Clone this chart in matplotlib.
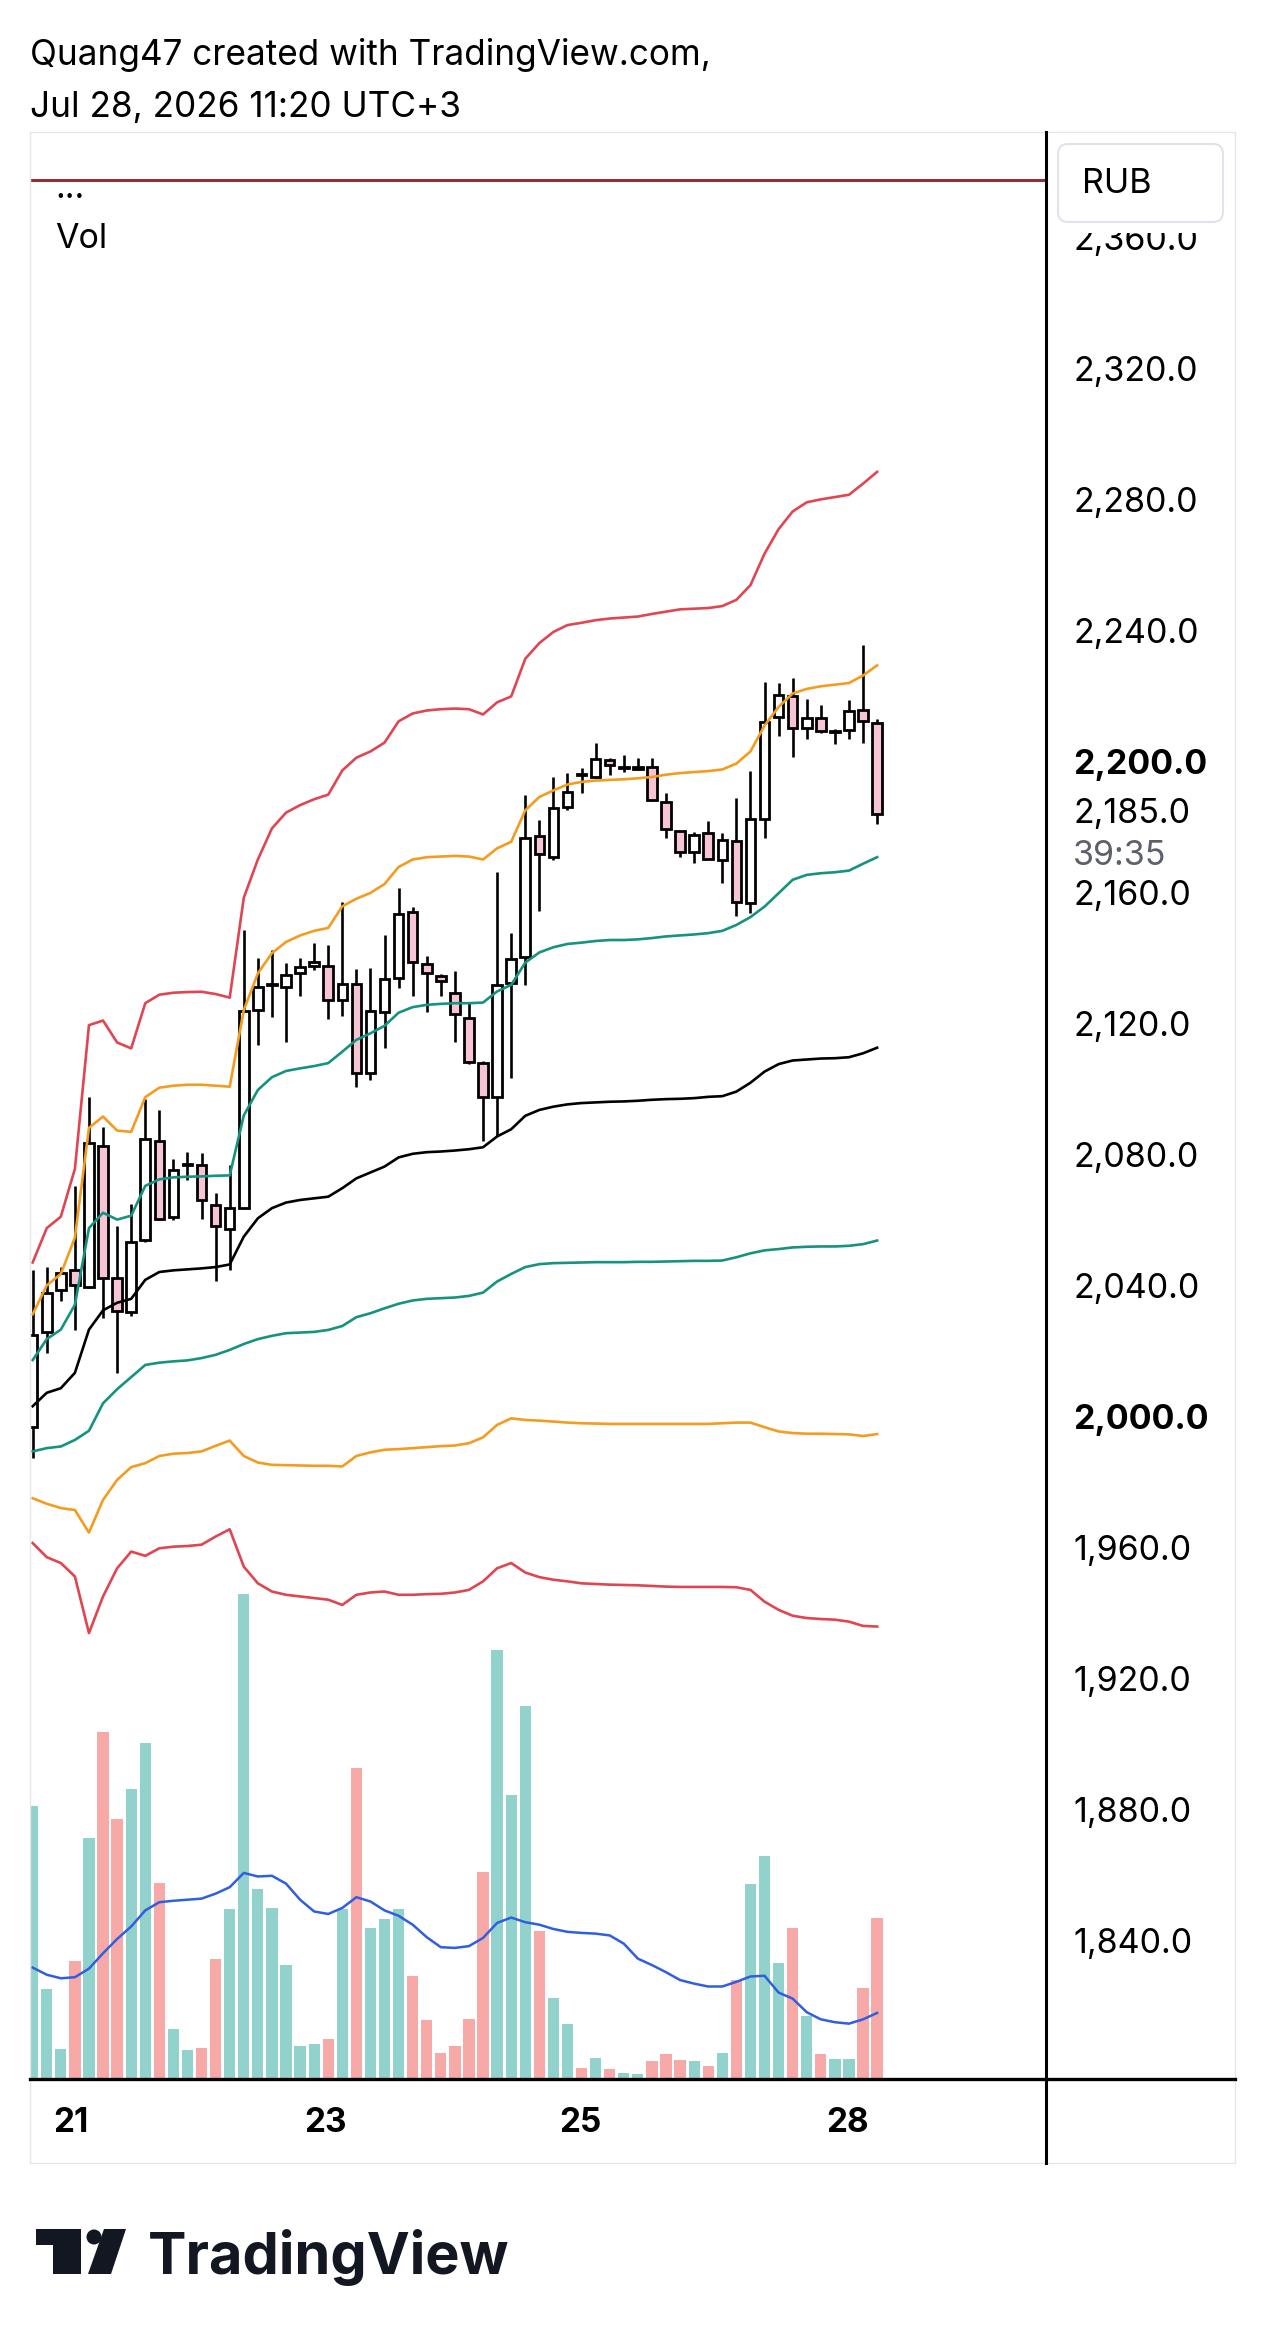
import matplotlib
matplotlib.use('Agg')
import matplotlib.pyplot as plt
from matplotlib import transforms
from matplotlib.patches import Rectangle, FancyBboxPatch, Circle, Polygon
import numpy as np

plt.rcParams['font.family'] = ['Inter', 'DejaVu Sans']

# candles (open, high, low, close)
opens = [1997.9, 2027.0, 2039.6, 2045.7, 2040.7, 2083.7, 2043.4, 2032.9, 2054.9, 2085.1,
         2061.9, 2077.8, 2077.9, 2065.6, 2058.4, 2064.8, 2125.2, 2133.0, 2132.4, 2136.5,
         2138.8, 2138.7, 2128.3, 2133.2, 2106.1, 2124.7, 2134.9, 2155.3, 2139.3, 2135.6,
         2130.5, 2122.9, 2109.0, 2098.8, 2133.4, 2141.4, 2178.4, 2172.1, 2187.2, 2197.4,
         2196.5, 2201.6, 2199.0, 2198.8, 2199.4, 2188.9, 2179.9, 2173.6, 2179.4, 2171.1,
         2176.7, 2157.8, 2183.5, 2214.7, 2221.0, 2211.3, 2214.4, 2210.1, 2210.8, 2216.9,
         2212.8]
highs = [2045.8, 2046.7, 2046.7, 2071.4, 2098.7, 2089.6, 2059.2, 2065.9, 2098.1, 2094.6,
         2079.6, 2082.0, 2081.4, 2069.4, 2077.9, 2149.8, 2141.0, 2143.6, 2139.5, 2141.0,
         2145.6, 2145.1, 2158.3, 2137.7, 2138.0, 2148.2, 2162.4, 2156.6, 2141.8, 2136.2,
         2137.0, 2127.5, 2109.5, 2167.5, 2148.7, 2190.9, 2183.3, 2196.5, 2197.6, 2199.1,
         2206.9, 2202.3, 2203.1, 2202.1, 2202.1, 2191.4, 2180.0, 2179.7, 2183.1, 2179.4,
         2189.9, 2198.3, 2225.5, 2225.0, 2226.6, 2220.2, 2218.4, 2211.0, 2220.0, 2236.7,
         2214.0]
lows = [1988.5, 2020.6, 2036.4, 2027.6, 2040.2, 2031.1, 2014.2, 2031.7, 2054.5, 2061.0,
        2061.0, 2073.2, 2061.5, 2042.5, 2045.7, 2064.3, 2114.6, 2123.2, 2115.3, 2129.5,
        2137.5, 2122.4, 2123.4, 2101.8, 2103.7, 2113.7, 2131.9, 2129.5, 2124.7, 2129.5,
        2115.5, 2108.8, 2085.3, 2086.8, 2104.4, 2132.9, 2155.6, 2171.1, 2186.3, 2191.6,
        2196.0, 2197.0, 2198.0, 2198.6, 2189.0, 2177.7, 2172.1, 2170.1, 2171.3, 2164.1,
        2154.0, 2154.8, 2177.7, 2209.0, 2202.4, 2208.0, 2209.8, 2206.5, 2208.0, 2206.7,
        2182.0]
closes = [2026.0, 2038.7, 2044.9, 2041.1, 2084.5, 2043.4, 2033.2, 2054.5, 2085.8, 2061.5,
          2076.5, 2078.1, 2067.1, 2059.1, 2064.8, 2125.0, 2132.2, 2133.3, 2136.0, 2138.5,
          2139.8, 2128.3, 2133.2, 2106.1, 2125.0, 2134.6, 2154.5, 2140.0, 2136.5, 2134.2,
          2124.0, 2109.2, 2098.8, 2132.9, 2140.7, 2177.7, 2172.9, 2186.9, 2191.9, 2197.0,
          2201.8, 2200.1, 2199.3, 2199.6, 2189.4, 2180.5, 2173.6, 2178.7, 2171.3, 2177.2,
          2158.3, 2183.5, 2213.3, 2221.5, 2211.3, 2214.4, 2210.3, 2210.4, 2216.7, 2213.6,
          2185.0]

volumes = [765, 251, 85, 329, 676, 972, 727, 811, 941, 549,
           141, 80, 88, 337, 475, 1359, 533, 480, 318, 91,
           99, 111, 475, 872, 424, 447, 477, 287, 164, 74,
           91, 169, 580, 1200, 794, 1045, 413, 228, 153, 32,
           60, 27, 18, 15, 49, 71, 53, 49, 36, 74,
           277, 547, 623, 326, 424, 177, 69, 56, 57, 256, 450]
vol_ma = [312, 292, 282, 285, 309, 352, 392, 427, 472, 495,
          499, 502, 505, 519, 537, 577, 567, 569, 547, 502,
          469, 462, 479, 509, 497, 472, 457, 432, 397, 369,
          367, 372, 395, 437, 452, 439, 432, 420, 412, 409,
          407, 402, 379, 337, 319, 299, 277, 267, 259, 259,
          272, 287, 289, 242, 225, 187, 167, 159, 155, 167, 185]

# VWAP and its bands
upper3 = [2048.1, 2058.6, 2062.1, 2076.7, 2120.6, 2122.0, 2115.3, 2113.5, 2127.3, 2129.9,
          2130.5, 2130.7, 2130.8, 2130.1, 2129.0, 2159.5, 2171.2, 2180.7, 2185.5, 2187.8,
          2189.6, 2191.0, 2198.4, 2202.3, 2204.2, 2206.9, 2213.4, 2215.8, 2216.7, 2217.1,
          2217.3, 2217.1, 2215.5, 2219.2, 2221.0, 2232.5, 2237.3, 2240.7, 2242.8, 2243.5,
          2244.3, 2244.8, 2245.1, 2245.4, 2246.2, 2246.9, 2247.6, 2247.8, 2248.0, 2248.6,
          2250.5, 2255.0, 2264.6, 2272.1, 2277.5, 2280.3, 2281.2, 2281.9, 2282.6, 2286.0, 2289.6]
upper2 = [2032.3, 2041.1, 2044.6, 2055.7, 2089.2, 2092.7, 2088.4, 2088.0, 2098.6, 2101.5,
          2102.1, 2102.4, 2102.4, 2102.1, 2101.8, 2125.2, 2136.4, 2142.6, 2146.0, 2148.0,
          2149.4, 2150.3, 2156.9, 2159.2, 2161.0, 2163.7, 2168.9, 2171.2, 2171.9, 2172.1,
          2172.3, 2172.1, 2171.2, 2174.6, 2176.6, 2186.2, 2190.3, 2192.3, 2194.1, 2194.9,
          2195.3, 2195.5, 2195.7, 2196.0, 2196.4, 2197.1, 2197.6, 2197.9, 2198.2, 2198.7,
          2200.5, 2204.2, 2212.1, 2217.8, 2221.9, 2223.3, 2224.1, 2224.6, 2225.1, 2227.4, 2230.5]
upper1 = [2018.3, 2024.7, 2027.6, 2035.2, 2058.6, 2063.3, 2061.2, 2062.4, 2071.5, 2073.5,
          2074.1, 2074.3, 2074.4, 2074.6, 2074.7, 2093.0, 2100.8, 2104.7, 2106.6, 2107.4,
          2108.1, 2109.0, 2112.5, 2116.1, 2118.1, 2120.4, 2124.4, 2126.1, 2126.8, 2127.1,
          2127.3, 2127.3, 2127.5, 2130.9, 2132.9, 2139.7, 2142.8, 2144.4, 2145.4, 2145.8,
          2146.3, 2146.6, 2146.6, 2146.8, 2147.2, 2147.7, 2148.0, 2148.3, 2148.7, 2149.4,
          2151.2, 2153.6, 2156.8, 2160.9, 2165.0, 2166.5, 2167.0, 2167.3, 2167.8, 2169.9, 2171.9]
vwap = [2004.2, 2008.3, 2009.7, 2014.4, 2027.6, 2033.5, 2035.8, 2037.0, 2042.8, 2045.2,
        2045.7, 2046.0, 2046.3, 2046.7, 2047.5, 2056.0, 2061.6, 2064.7, 2066.4, 2067.2,
        2067.7, 2068.2, 2070.8, 2073.8, 2075.6, 2077.4, 2080.2, 2081.3, 2081.8, 2082.0,
        2082.3, 2082.7, 2083.3, 2086.6, 2088.8, 2092.9, 2094.7, 2095.7, 2096.4, 2096.8,
        2097.0, 2097.2, 2097.3, 2097.5, 2097.8, 2098.0, 2098.1, 2098.3, 2098.7, 2098.9,
        2100.3, 2103.0, 2106.4, 2108.7, 2109.8, 2110.1, 2110.4, 2110.5, 2110.8, 2112.0, 2113.7]
lower1 = [1990.4, 1991.4, 1991.9, 1993.9, 1996.7, 2005.1, 2009.4, 2013.1, 2016.8, 2017.5,
          2017.9, 2018.2, 2018.9, 2019.9, 2021.4, 2023.2, 2024.7, 2025.7, 2026.5, 2026.7,
          2026.9, 2027.5, 2028.7, 2031.4, 2032.6, 2034.1, 2035.5, 2036.5, 2037.0, 2037.2,
          2037.4, 2037.9, 2038.9, 2042.3, 2044.6, 2046.7, 2047.6, 2047.9, 2048.0, 2048.1,
          2048.2, 2048.2, 2048.2, 2048.3, 2048.3, 2048.4, 2048.5, 2048.6, 2048.6, 2048.7,
          2049.7, 2050.9, 2051.8, 2052.2, 2052.7, 2052.9, 2053.0, 2053.0, 2053.2, 2053.7, 2054.8]
lower2 = [1976.1, 1974.4, 1973.1, 1972.5, 1965.6, 1975.6, 1981.7, 1985.6, 1986.8, 1989.0,
          1989.7, 1989.9, 1990.4, 1992.1, 1993.7, 1989.0, 1987.0, 1986.3, 1986.2, 1986.1,
          1986.0, 1986.0, 1985.8, 1989.0, 1990.1, 1990.9, 1991.1, 1991.4, 1991.7, 1992.0,
          1992.2, 1992.9, 1994.7, 1998.5, 2000.5, 2000.0, 1999.8, 1999.5, 1999.2, 1999.0,
          1998.9, 1998.8, 1998.8, 1998.8, 1998.8, 1998.8, 1998.8, 1998.8, 1998.8, 1999.0,
          1999.2, 1999.2, 1997.8, 1996.5, 1996.0, 1995.8, 1995.8, 1995.7, 1995.6, 1995.1, 1995.7]
lower3 = [1962.4, 1958.1, 1956.3, 1952.2, 1934.9, 1946.1, 1954.7, 1959.8, 1958.5, 1960.8,
          1961.3, 1961.5, 1961.9, 1964.4, 1966.6, 1955.2, 1950.1, 1947.6, 1946.6, 1946.1,
          1945.6, 1945.1, 1943.5, 1946.6, 1947.3, 1947.6, 1946.6, 1946.6, 1946.8, 1946.9,
          1947.3, 1948.1, 1950.7, 1954.7, 1956.3, 1953.4, 1952.0, 1951.2, 1950.7, 1950.1,
          1949.9, 1949.7, 1949.6, 1949.5, 1949.3, 1949.1, 1949.0, 1949.0, 1949.0, 1949.0,
          1948.9, 1948.1, 1944.5, 1942.0, 1940.2, 1939.5, 1939.2, 1939.0, 1938.4, 1937.1, 1936.9]

price_levels = [1840, 1880, 1920, 1960, 2000, 2040, 2080, 2120, 2160, 2200, 2240, 2280, 2320, 2360]
bold_levels = [2000, 2200]
alert_level = 2378.8
day_ticks = [2.7, 20.8, 38.9, 57.9]
day_labels = ['21', '23', '25', '28']
timer_text = '39:35'
header1 = 'Quang47 created with TradingView.com,'
header2 = 'Jul 28, 2026 11:20 UTC+3'

W, H = 1266, 2343
fig = plt.figure(figsize=(W / 100, H / 100), dpi=100, facecolor='white')


def fx(x):
    return x / W


def fy(y):
    return 1 - y / H


pane_l, pane_r, pane_t, pane_b = 30, 1046, 131.7, 2079
rect = [fx(pane_l), fy(pane_b), fx(pane_r) - fx(pane_l), fy(pane_t) - fy(pane_b)]
xlim = (-0.19, 72.0)
lab_size = 24.5

# volume underneath
axv = fig.add_axes(rect, zorder=1)
ax = fig.add_axes(rect, zorder=2)
ax.patch.set_visible(False)

x = np.arange(len(opens))
o, h, l, c = (np.array(a) for a in (opens, highs, lows, closes))
up = c >= o

vol_cols = np.where(up, '#92d2cc', '#f7a9a7')
axv.bar(x, volumes, width=0.8, color=vol_cols, linewidth=0)
axv.plot(x, vol_ma, color='#2f5fe0', lw=1.8)
axv.set_xlim(*xlim)
axv.set_ylim(0, 5452)
axv.axis('off')

# candles
ax.vlines(x, l, h, color='black', lw=1.9, zorder=2)
body_lo = np.minimum(o, c)
body_h = np.maximum(np.abs(c - o), 0.3)
ax.bar(x, body_h, bottom=body_lo, width=0.68, color=np.where(up, 'white', '#f7c4d4'),
       edgecolor='black', linewidth=2.0, zorder=3)

# bands
for band, col in [(upper3, '#e04552'), (upper2, '#f39c1f'), (upper1, '#15937f'),
                  (vwap, 'black'), (lower1, '#15937f'), (lower2, '#f39c1f'), (lower3, '#e04552')]:
    ax.plot(x, band, color=col, lw=1.9, zorder=4)

ax.axhline(alert_level, color='#8c323c', lw=2.2, zorder=4)
ax.set_xlim(*xlim)
ax.set_ylim(1798.7, 2393.5)
ax.axis('off')

# price scale labels
lab_tr = transforms.blended_transform_factory(fig.transFigure, ax.transData)
for v in price_levels:
    ax.text(fx(1073), v, f'{v:,.1f}', transform=lab_tr, ha='left', va='center',
            fontsize=lab_size, fontweight='bold' if v in bold_levels else 'normal', clip_on=False)
ax.text(fx(1073), closes[-1], f'{closes[-1]:,.1f}', transform=lab_tr, ha='left', va='center',
        fontsize=lab_size, clip_on=False)
timer_tr = transforms.offset_copy(lab_tr, fig=fig, y=-42, units='dots')
ax.text(fx(1073), closes[-1], timer_text, transform=timer_tr, ha='left', va='center',
        fontsize=lab_size, color='#5d606b', clip_on=False)

# time labels
time_tr = transforms.blended_transform_factory(ax.transData, fig.transFigure)
for t, s in zip(day_ticks, day_labels):
    ax.text(t, fy(2123), s, transform=time_tr, ha='center', va='center',
            fontsize=24, fontweight='bold', clip_on=False)

# overlay in pixel coordinates
ov = fig.add_axes([0, 0, 1, 1], zorder=10)
ov.set_xlim(0, W)
ov.set_ylim(H, 0)
ov.axis('off')

ov.add_patch(Rectangle((30, 131.7), 1205, 2031.3, fill=False, edgecolor='#e6e6e6', lw=1))
ov.add_patch(Rectangle((1048, 133), 186, 100, facecolor='white', edgecolor='none'))
ov.plot([1046, 1046], [131.7, 2163], color='black', lw=2.2)
ov.plot([30, 1235], [2079, 2079], color='black', lw=2.4)
ov.add_patch(FancyBboxPatch((1058, 144), 165, 78, boxstyle='round,pad=0,rounding_size=10',
                            facecolor='white', edgecolor='#e0e3eb', lw=1.5))
ov.text(1082, 184, 'RUB', ha='left', va='center', fontsize=lab_size)

ov.text(55, 198, '...', ha='left', va='baseline', fontsize=lab_size)
ov.text(55, 248, 'Vol', ha='left', va='baseline', fontsize=lab_size)

ov.text(30, 65, header1, ha='left', va='baseline', fontsize=25.3)
ov.text(30, 117, header2, ha='left', va='baseline', fontsize=25.3)

# TradingView logo
ov.add_patch(Rectangle((36, 2229), 45, 16, facecolor='#131722', edgecolor='none'))
ov.add_patch(Rectangle((53, 2229), 28, 45, facecolor='#131722', edgecolor='none'))
ov.add_patch(Circle((94, 2237), 7.5, facecolor='#131722', edgecolor='none'))
ov.add_patch(Polygon([(104, 2229), (126, 2229), (111, 2274), (88, 2274)],
                     facecolor='#131722', edgecolor='none'))
ov.text(148, 2274, 'TradingView', ha='left', va='baseline', fontsize=41.5,
        fontweight='bold', color='#131722')

fig.savefig('out.png', dpi=100, facecolor='white')
